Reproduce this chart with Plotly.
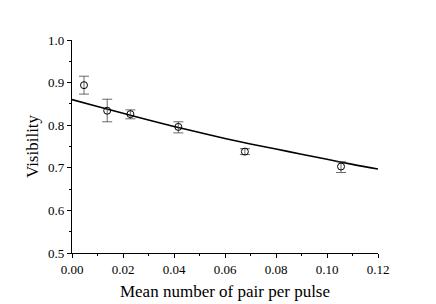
import plotly.graph_objects as go

mu = [0.0047, 0.0138, 0.0229, 0.0417, 0.0678, 0.1055]
vis = [0.894, 0.834, 0.826, 0.796, 0.738, 0.703]
err_plus = [0.021, 0.027, 0.010, 0.012, 0.007, 0.011]
err_minus = [0.021, 0.026, 0.011, 0.014, 0.007, 0.014]

fit_x = [0.0, 0.01, 0.02, 0.03, 0.04, 0.05, 0.06, 0.07, 0.08, 0.09, 0.10, 0.11, 0.12]
fit_y = [0.860, 0.844, 0.828, 0.812, 0.797, 0.783, 0.769, 0.756, 0.744, 0.732, 0.720, 0.708, 0.697]

x_ticks = [0.0, 0.02, 0.04, 0.06, 0.08, 0.10, 0.12]
x_tick_text = ["0.00", "0.02", "0.04", "0.06", "0.08", "0.10", "0.12"]
y_ticks = [0.5, 0.6, 0.7, 0.8, 0.9, 1.0]
y_tick_text = ["0.5", "0.6", "0.7", "0.8", "0.9", "1.0"]

font = "Liberation Serif"

fig = go.Figure()
fig.add_trace(go.Scatter(
    x=fit_x, y=fit_y, mode="lines",
    line=dict(color="black", width=1.6, shape="spline"),
    showlegend=False, hoverinfo="skip"))
fig.add_trace(go.Scatter(
    x=mu, y=vis, mode="markers",
    marker=dict(symbol="circle-open", size=7, color="black", line=dict(width=1)),
    error_y=dict(type="data", array=err_plus, arrayminus=err_minus,
                 color="#444", thickness=0.8, width=5),
    showlegend=False))

fig.update_layout(
    width=436, height=304,
    margin=dict(l=72, r=58, t=40, b=51, autoexpand=False),
    paper_bgcolor="white", plot_bgcolor="white",
    font=dict(family=font, color="black", size=13),
    xaxis=dict(
        range=[0, 0.12], tickvals=x_ticks, ticktext=x_tick_text,
        showgrid=False, zeroline=False, showline=True, linecolor="black", linewidth=1.2,
        ticks="outside", ticklen=4, tickwidth=1, tickcolor="black",
        minor=dict(ticks="outside", ticklen=2, tickwidth=1, tickcolor="black", dtick=0.01),
        tickfont=dict(family=font, size=13), automargin=False,
        title=dict(text="Mean number of pair per pulse", font=dict(family=font, size=17), standoff=9),
    ),
    yaxis=dict(
        range=[0.5, 1.0], tickvals=y_ticks, ticktext=y_tick_text,
        showgrid=False, zeroline=False, showline=True, linecolor="black", linewidth=1.2,
        ticks="outside", ticklen=4, tickwidth=1, tickcolor="black",
        minor=dict(ticks="outside", ticklen=2, tickwidth=1, tickcolor="black", dtick=0.05),
        tickfont=dict(family=font, size=13), automargin=False,
        title=dict(text="Visibility", font=dict(family=font, size=17), standoff=5),
    ),
)

fig.write_html("out.html", config={"displayModeBar": False},
               post_script="document.body.style.margin='0';document.body.style.overflow='hidden';")
